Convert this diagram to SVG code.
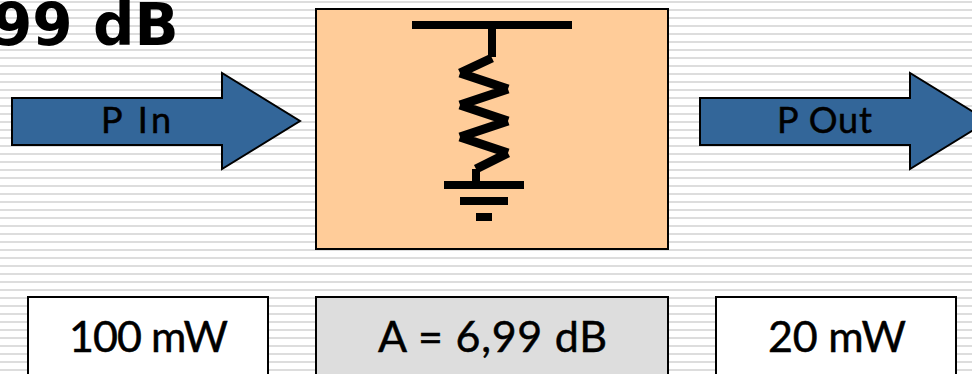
<svg xmlns="http://www.w3.org/2000/svg" width="972" height="374" viewBox="0 0 972 374">
<style>
.box{stroke:#000;stroke-width:2}
.arrow{fill:#336699;stroke:#000;stroke-width:2}
.lbl{font-family:"Lato","Open Sans",sans-serif;text-anchor:middle;fill:#000;stroke:#000;stroke-width:.5}
.sym{stroke:#000;fill:none;stroke-width:8;stroke-linecap:butt}
</style>
<defs>
<pattern id="stripes" width="8" height="8" patternUnits="userSpaceOnUse">
<rect width="8" height="8" fill="#fff"/>
<rect y="1" width="8" height="2" fill="#dddddd"/>
</pattern>
</defs>
<rect width="972" height="374" fill="url(#stripes)"/>
<text x="-8" y="45" font-family="'DejaVu Sans',sans-serif" font-weight="bold" font-size="58" fill="#000">99 dB</text>
<g id="arrow-in">
<path class="arrow" d="M12 98H222V73L300 121L222 169V145H12Z"/>
<text class="lbl" x="136" y="133" font-size="36" textLength="70">P In</text>
</g>
<g id="attenuator">
<rect class="box" x="316" y="9" width="352" height="240" fill="#ffcc99"/>
<g id="resistor-symbol">
<path class="sym" d="M412 25H572M444 185H524M460 201H508M476 217H492M492 25V57M476 169V185"/>
<path class="sym" style="stroke-width:9" d="M492 58L460 73M460 73L508 89M508 89L460 105M460 105L508 121M508 121L460 137M460 137L508 153M508 153L476 169"/>
</g>
</g>
<g id="arrow-out">
<path class="arrow" d="M700 98H910V73L988 121L910 169V145H700Z"/>
<text class="lbl" x="824.5" y="133" font-size="36" textLength="95">P Out</text>
</g>
<g id="value-in">
<rect class="box" x="28" y="297" width="240" height="90" fill="#fff"/>
<text class="lbl" x="148.500" y="352" font-size="43" textLength="159">100 mW</text>
</g>
<g id="value-a">
<rect class="box" x="316" y="297" width="352" height="90" fill="#dddddd"/>
<text class="lbl" x="492.500" y="352" font-size="43" textLength="229">A = 6,99 dB</text>
</g>
<g id="value-out">
<rect class="box" x="716" y="297" width="240" height="90" fill="#fff"/>
<text class="lbl" x="837" y="352" font-size="43" textLength="138">20 mW</text>
</g>
</svg>
